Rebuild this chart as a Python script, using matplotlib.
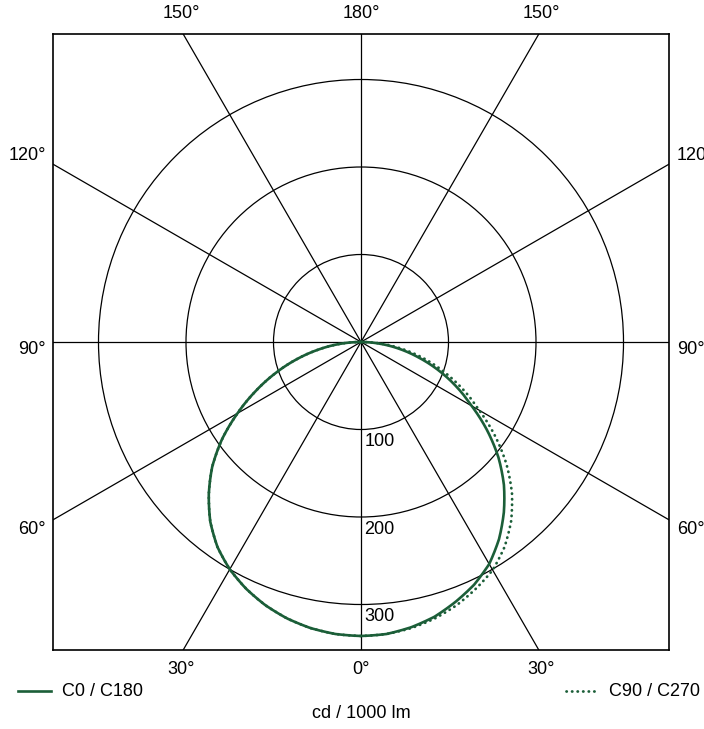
import numpy as np
import matplotlib
matplotlib.use("Agg")
import matplotlib.pyplot as plt
from matplotlib.patches import Circle
from matplotlib.lines import Line2D

plt.rcParams['font.family'] = ['Liberation Sans', 'DejaVu Sans']

# ---- data ----
gamma = [0, 5, 10, 15, 20, 25, 30, 35, 40, 45, 50, 55, 60, 65, 70, 75, 80, 85, 90]
c0   = [336, 335, 331, 325, 316, 306, 293, 275, 254, 231, 205, 176, 146, 120, 94, 68, 44, 21, 0]
c180 = [336, 335, 332, 327, 320, 311, 300, 286, 268, 246, 222, 194, 163, 133, 104, 76, 49, 24, 0]
c90  = [336, 335, 332, 327, 320, 311, 301, 286, 267, 244, 217, 187, 156, 129, 102, 76, 50, 25, 0]
c270 = [336, 335, 332, 327, 320, 311, 300, 286, 268, 246, 222, 194, 163, 133, 104, 76, 49, 24, 0]
ring_values = [100, 200, 300]
spoke_angles = [0, 30, 60, 90, 120, 150]
unit_label = "cd / 1000 lm"
legend_labels = ["C0 / C180", "C90 / C270"]

W, H = 704, 729
fig = plt.figure(figsize=(W / 100, H / 100), dpi=100)
L, T, R, B = 53, 34, 669, 650
rect = [L / W, 1 - B / H, (R - L) / W, (B - T) / H]
ax = fig.add_axes(rect)
lim = 352
ax.set_xlim(-lim, lim)
ax.set_ylim(-lim, lim)
ax.set_xticks([])
ax.set_yticks([])
for s in ax.spines.values():
    s.set_linewidth(1.2)
    s.set_color('black')

# rings
for r in ring_values:
    ax.add_patch(Circle((0, 0), r, fill=False, edgecolor='black', lw=0.9, zorder=1))
# spokes
Rl = 1000
for a in spoke_angles:
    t = np.deg2rad(a)
    ax.plot([-Rl * np.sin(t), Rl * np.sin(t)], [Rl * np.cos(t), -Rl * np.cos(t)],
            color='black', lw=0.9, zorder=1)

# ring labels
for r in ring_values:
    ax.text(4, -r - 4, str(r), ha='left', va='top', fontsize=13, zorder=5)

# polar overlay for the intensity curves
pax = fig.add_axes(rect, projection='polar')
pax.set_theta_zero_location('S')
pax.set_theta_direction(1)
pax.set_rlim(0, lim)
pax.set_axis_off()
pax.patch.set_alpha(0)

green = '#1b5e38'

def polar_curve(right_vals, left_vals):
    g = np.deg2rad(np.array(gamma, dtype=float))
    th = np.concatenate([-g[::-1], g[1:]])
    r = np.concatenate([np.array(left_vals, float)[::-1], np.array(right_vals, float)[1:]])
    return th, r

th90, r90 = polar_curve(c90, c270)
ln90, = pax.plot(th90, r90, color=green, lw=2.0, linestyle=(0, (0.1, 1.9)),
                 dash_capstyle='round', zorder=3)
th0, r0 = polar_curve(c0, c180)
ln0, = pax.plot(th0, r0, color=green, lw=1.9, zorder=4, solid_joinstyle='round')
# draw segments as curves in polar space
for ln in (ln90, ln0):
    ln._path._interpolation_steps = 24

def ftext(x, y, s, **kw):
    fig.text(x / W, 1 - y / H, s, fontsize=13, **kw)

# angle labels
ftext(181, 14, "150°", ha='center', va='center')
ftext(361, 14, "180°", ha='center', va='center')
ftext(541, 14, "150°", ha='center', va='center')
ftext(181, 670, "30°", ha='center', va='center')
ftext(361, 670, "0°", ha='center', va='center')
ftext(541, 670, "30°", ha='center', va='center')
ftext(46, 155, "120°", ha='right', va='center')
ftext(46, 349, "90°", ha='right', va='center')
ftext(46, 530, "60°", ha='right', va='center')
ftext(677, 155, "120°", ha='left', va='center')
ftext(677, 349, "90°", ha='left', va='center')
ftext(677, 530, "60°", ha='left', va='center')

# legend
ly = 691
fig.add_artist(Line2D([18 / W, 51 / W], [1 - ly / H, 1 - ly / H], color=green, lw=1.9))
ftext(62, ly, legend_labels[0], ha='left', va='center')
fig.add_artist(Line2D([566 / W, 598 / W], [1 - ly / H, 1 - ly / H], color=green, lw=2.0,
                      linestyle=(0, (0.1, 1.9)), dash_capstyle='round'))
ftext(609, ly, legend_labels[1], ha='left', va='center')
ftext(361, 714, unit_label, ha='center', va='center')

fig.savefig("out.png", dpi=100)
